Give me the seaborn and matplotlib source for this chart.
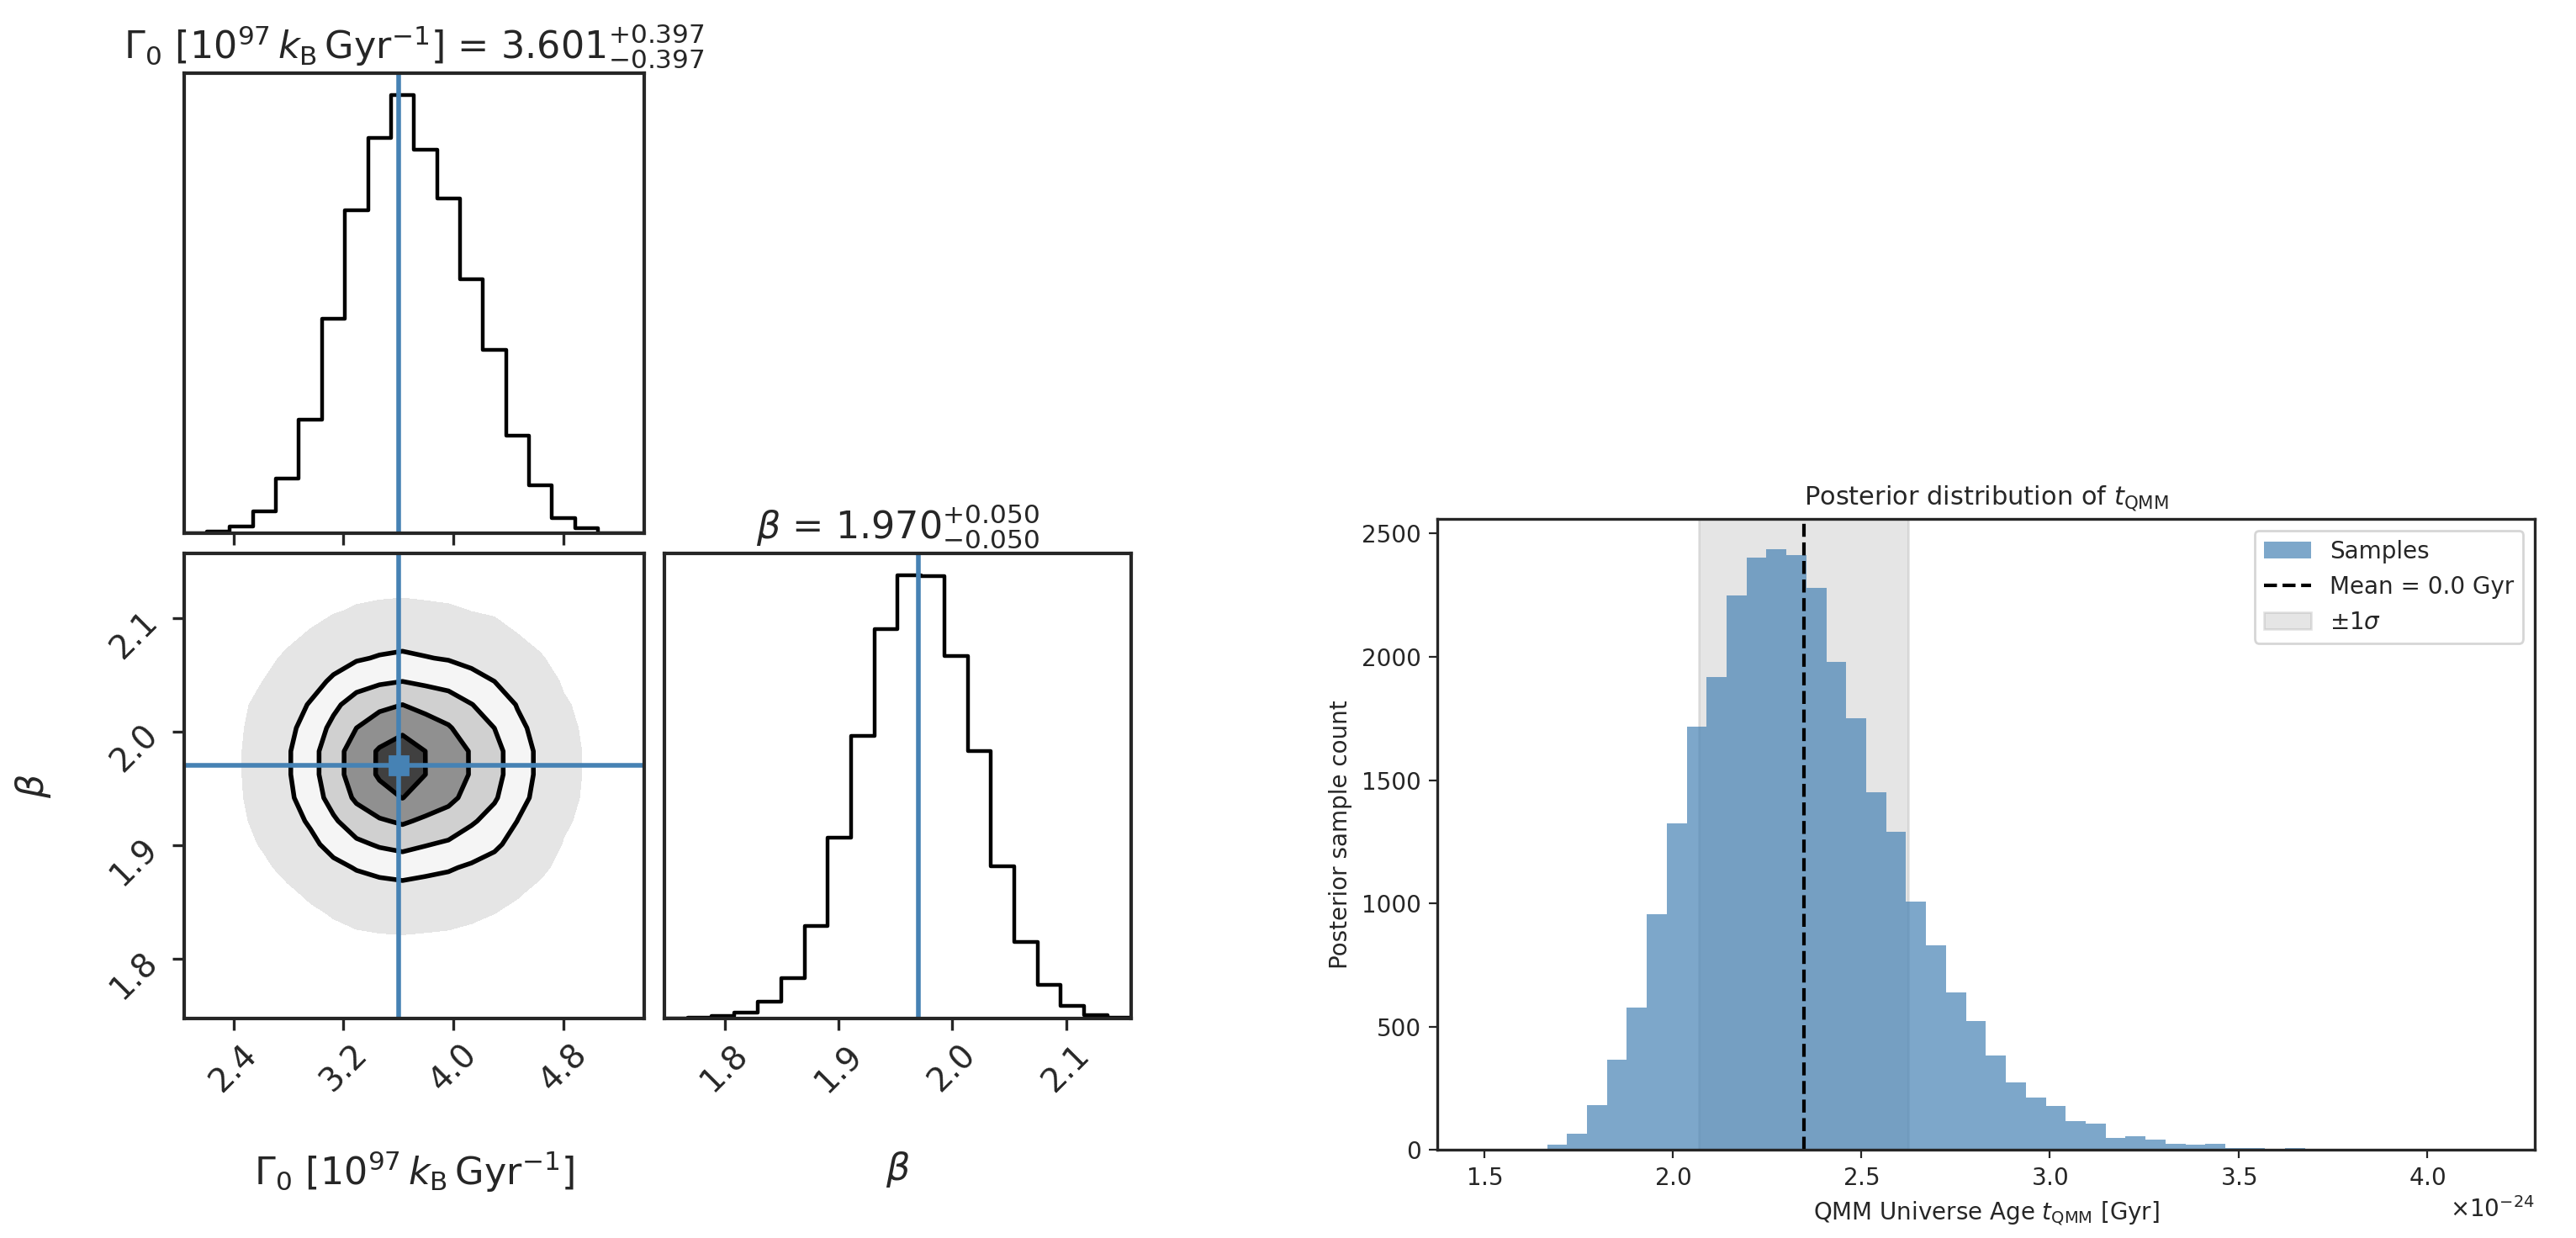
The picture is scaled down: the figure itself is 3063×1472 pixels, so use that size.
import numpy as np
import pandas as pd
import matplotlib
matplotlib.use("Agg")
import matplotlib.pyplot as plt
import seaborn as sns
from matplotlib.ticker import ScalarFormatter

sns.set_style("ticks")
plt.rcParams['font.family'] = ['DejaVu Sans']
plt.rcParams['mathtext.fontset'] = 'dejavusans'

# ---- data ----
gamma_range = (2.04, 5.385)
gamma_counts = [0, 1, 4, 13, 32, 66, 125, 188, 230, 255, 223, 195, 148, 107, 57, 28, 9, 3, 0, 0]
beta_range = (1.747, 2.157)
beta_counts = [0, 2, 6, 12, 34, 81, 184, 358, 559, 769, 875, 874, 717, 529, 302, 152, 67, 25, 7, 2]
gamma_mean, gamma_err = 3.601, 0.397
beta_mean, beta_err = 1.970, 0.050

t_start, t_width = 1.508, 0.0529
t_counts = [0, 0, 4, 23, 68, 181, 365, 579, 955, 1324, 1716, 1918, 2250, 2404, 2437, 2413,
            2281, 1981, 1751, 1452, 1291, 1006, 829, 641, 524, 384, 276, 212, 179, 117, 107,
            50, 56, 41, 25, 21, 27, 10, 10, 6, 10, 2, 1, 0, 0, 0, 0, 0, 0, 1]
t_mean, t_lo, t_hi = 2.347, 2.069, 2.625
scale = 1e-24

truth = "#4682b4"
fig = plt.figure(figsize=(15.315, 7.36), dpi=200)

g_edges = np.linspace(*gamma_range, len(gamma_counts) + 1)
b_edges = np.linspace(*beta_range, len(beta_counts) + 1)
g_c = 0.5 * (g_edges[1:] + g_edges[:-1])
b_c = 0.5 * (b_edges[1:] + b_edges[:-1])
df_g = pd.DataFrame({"x": g_c, "w": gamma_counts})
df_b = pd.DataFrame({"x": b_c, "w": beta_counts})

ax1 = fig.add_axes([0.0714, 0.569, 0.1786, 0.372])
ax2 = fig.add_axes([0.0714, 0.177, 0.1786, 0.376])
ax3 = fig.add_axes([0.258, 0.177, 0.181, 0.376])

sns.histplot(data=df_g, x="x", weights="w", bins=len(gamma_counts), binrange=gamma_range,
             element="step", fill=False, color="black", linewidth=1.6, ax=ax1)
ax1.axvline(gamma_mean, color=truth, lw=2)
ax1.set_xlim(gamma_range); ax1.set_ylim(0, max(gamma_counts) * 1.05)
ax1.set_yticks([]); ax1.set_ylabel(""); ax1.set_xlabel("")
ax1.set_xticks([2.4, 3.2, 4.0, 4.8]); ax1.set_xticklabels([])
ax1.set_title(r"$\Gamma_0\ [10^{97}\,k_{\rm B}\,{\rm Gyr}^{-1}]$ = $3.601^{+0.397}_{-0.397}$", fontsize=16)

sns.histplot(data=df_b, x="x", weights="w", bins=len(beta_counts), binrange=beta_range,
             element="step", fill=False, color="black", linewidth=1.6, ax=ax3)
ax3.axvline(beta_mean, color=truth, lw=2)
ax3.set_xlim(beta_range); ax3.set_ylim(0, max(beta_counts) * 1.05)
ax3.set_yticks([]); ax3.set_ylabel("")
ax3.set_xticks([1.8, 1.9, 2.0, 2.1])
ax3.set_xlabel(r"$\beta$", fontsize=16, labelpad=22)
ax3.set_title(r"$\beta$ = $1.970^{+0.050}_{-0.050}$", fontsize=16)

# 2D density from marginals
H = np.outer(np.array(beta_counts, float), np.array(gamma_counts, float))
H /= H.sum()
flat = np.sort(H.ravel())[::-1]
cum = np.cumsum(flat)
levels_mass = 1 - np.exp(-0.5 * np.array([0.5, 1.0, 1.5, 2.0]) ** 2)
V = sorted(set(flat[np.searchsorted(cum, m)] for m in levels_mass))
Vmin = flat[min(np.searchsorted(cum, 0.985), len(flat) - 1)]
ax2.contourf(g_c, b_c, H, levels=[Vmin, V[0]], colors=["#b5b5b5"], alpha=0.35)
ax2.contourf(g_c, b_c, H, levels=list(V) + [H.max() * 1.01],
             colors=["#f5f5f5", "#d0d0d0", "#909090", "#404040"][:len(V)])
ax2.contour(g_c, b_c, H, levels=V, colors="black", linewidths=2)
ax2.axvline(gamma_mean, color=truth, lw=2)
ax2.axhline(beta_mean, color=truth, lw=2)
ax2.plot(gamma_mean, beta_mean, "s", color=truth, ms=8)
ax2.set_xlim(gamma_range); ax2.set_ylim(beta_range)
ax2.set_xticks([2.4, 3.2, 4.0, 4.8]); ax2.set_yticks([1.8, 1.9, 2.0, 2.1])
ax2.set_xlabel(r"$\Gamma_0\ [10^{97}\,k_{\rm B}\,{\rm Gyr}^{-1}]$", fontsize=16, labelpad=22)
ax2.set_ylabel(r"$\beta$", fontsize=16, labelpad=22)

for a in (ax1, ax2, ax3):
    a.tick_params(labelsize=14, width=1.2, length=5)
    for s in a.spines.values():
        s.set_visible(True); s.set_linewidth(1.5)
for a in (ax2, ax3):
    for lab in a.get_xticklabels():
        lab.set_rotation(45)
for lab in ax2.get_yticklabels():
    lab.set_rotation(45)

# ---- right histogram ----
ax4 = fig.add_axes([0.558, 0.071, 0.426, 0.51])
t_lo_edge = t_start * scale
t_hi_edge = (t_start + t_width * len(t_counts)) * scale
t_c = (t_start + t_width * (np.arange(len(t_counts)) + 0.5)) * scale
df_t = pd.DataFrame({"x": t_c, "w": t_counts})
ax4.axvspan(t_lo * scale, t_hi * scale, color="gray", alpha=0.2, label=r"$\pm1\sigma$", zorder=0)
sns.histplot(data=df_t, x="x", weights="w", bins=len(t_counts), binrange=(t_lo_edge, t_hi_edge),
             color="steelblue", alpha=0.7, edgecolor="none", linewidth=0, label="Samples", ax=ax4)
ax4.axvline(t_mean * scale, color="black", ls="--", lw=1.5, label="Mean = 0.0 Gyr")
ax4.set_xlim(1.376 * scale, 4.286 * scale)
ax4.set_ylim(0, 2560)
fmt = ScalarFormatter(useMathText=True)
fmt.set_powerlimits((0, 0))
ax4.xaxis.set_major_formatter(fmt)
ax4.set_title(r"Posterior distribution of $t_{\rm QMM}$", fontsize=11)
ax4.set_xlabel(r"QMM Universe Age $t_{\rm QMM}$ [Gyr]", fontsize=10)
ax4.set_ylabel("Posterior sample count", fontsize=10)
ax4.tick_params(labelsize=10)
ax4.xaxis.get_offset_text().set_fontsize(10)
h, l = ax4.get_legend_handles_labels()
order = [l.index("Samples"), l.index("Mean = 0.0 Gyr"), l.index(r"$\pm1\sigma$")]
ax4.legend([h[i] for i in order], [l[i] for i in order], loc="upper right", fontsize=10)
for s in ax4.spines.values():
    s.set_visible(True); s.set_linewidth(1.2)

fig.savefig("out.png", dpi=200)
